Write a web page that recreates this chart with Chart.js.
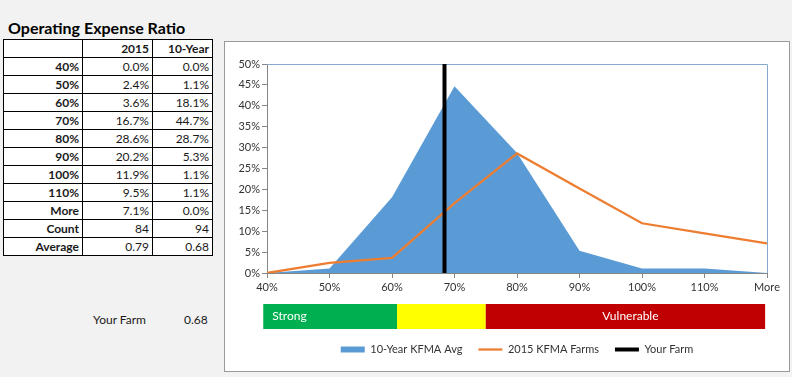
<!DOCTYPE html>
<html>
<head>
<meta charset="utf-8">
<script src="https://cdn.jsdelivr.net/npm/chart.js@4"></script>
<style>
  body { margin: 0; background: #f2f2f2; font-family: Lato, "Open Sans", sans-serif; color: #1a1a1a; }
  #page { position: relative; width: 792px; height: 377px; overflow: hidden; }
  .title { position: absolute; left: 8px; top: 18px; font-size: 16px; font-weight: bold; color: #000; }
  table { position: absolute; left: 3px; top: 39px; border-collapse: collapse; font-size: 12px; }
  td { border: 1px solid #000; background: #fff; height: 17px; line-height: 17px; padding: 0 3px; text-align: right; }
  td.lbl { font-weight: bold; }
  .farm { position: absolute; top: 312px; font-size: 12px; }
  #box { position: absolute; left: 224px; top: 41px; width: 564px; height: 329px; background: #fff; border: 1px solid #9a9a9a; }
  #wrap { position: absolute; left: 226px; top: 43px; width: 562px; height: 322px; }
</style>
</head>
<body>
<div id="page">
  <div class="title">Operating Expense Ratio</div>
  <table id="tbl"></table>
  <div class="farm" style="left:93px">Your Farm</div>
  <div class="farm" id="farmVal" style="left:184px"></div>
  <div id="box"></div>
  <div id="wrap"><canvas id="myChart"></canvas></div>
</div>
<script>
// histogram bins (x position on the axis) and their labels
const bins = [0.4, 0.5, 0.6, 0.7, 0.8, 0.9, 1.0, 1.1, 1.2]
const xTickLabels = ['40%', '50%', '60%', '70%', '80%', '90%', '100%', '110%', 'More']
const yTickLabels = ['0%', '5%', '10%', '15%', '20%', '25%', '30%', '35%', '40%', '45%', '50%']

// percent of farms in each bin
const tenYear = [0.0, 1.1, 18.1, 44.7, 28.7, 5.3, 1.1, 1.1, 0.0]
const farms2015 = [0.0, 2.4, 3.6, 16.7, 28.6, 20.2, 11.9, 9.5, 7.1]
const counts = [84, 94]
const averages = [0.79, 0.68]
const yourFarm = 0.684

// rating zones under the axis
const zoneNames = ['Strong', '', 'Vulnerable']
const zoneEdges = [0.394, 0.608, 0.75, 1.197]
const zoneColors = ['#00b050', '#ffff00', '#c00000']

// table
let rows = `<tr><td></td><td class="lbl">2015</td><td class="lbl">10-Year</td></tr>`
rows += xTickLabels.map((l, i) => `<tr><td class="lbl" style="width:72px">${l}</td><td style="width:63px">${farms2015[i].toFixed(1)}%</td><td style="width:53px">${tenYear[i].toFixed(1)}%</td></tr>`).join('')
rows += `<tr><td class="lbl">Count</td><td>${counts[0]}</td><td>${counts[1]}</td></tr>`
rows += `<tr><td class="lbl">Average</td><td>${averages[0].toFixed(2)}</td><td>${averages[1].toFixed(2)}</td></tr>`
document.getElementById('tbl').innerHTML = rows
document.getElementById('farmVal').textContent = yourFarm.toFixed(2)

const pts = arr => arr.map((v, i) => ({ x: bins[i], y: v / 100 }))

const extras = {
  id: 'extras',
  beforeDatasetsDraw(chart) {
    const { ctx, chartArea: a } = chart
    ctx.save()
    ctx.strokeStyle = '#86a9d0'
    ctx.lineWidth = 1
    ctx.beginPath()
    ctx.moveTo(a.left, a.top + 0.5)
    ctx.lineTo(a.right + 0.5, a.top + 0.5)
    ctx.lineTo(a.right + 0.5, a.bottom)
    ctx.stroke()
    ctx.restore()
  },
  afterDraw(chart) {
    const { ctx, chartArea: a } = chart
    const x = chart.scales.x
    const top = a.bottom + 31, h = 25
    ctx.save()
    ctx.font = '12px Lato'
    ctx.textBaseline = 'middle'
    zoneNames.forEach((name, i) => {
      const x0 = x.getPixelForValue(zoneEdges[i])
      const x1 = x.getPixelForValue(zoneEdges[i + 1])
      ctx.fillStyle = zoneColors[i]
      ctx.fillRect(x0, top, x1 - x0, h)
      if (!name) return
      ctx.fillStyle = '#fff'
      if (i === 0) {
        ctx.textAlign = 'left'
        ctx.fillText(name, x0 + 9, top + h / 2)
      } else {
        ctx.textAlign = 'center'
        ctx.fillText(name, (x0 + x1) / 2 + 5, top + h / 2)
      }
    })
    ctx.restore()
  }
}

const ctx = document.getElementById('myChart')
new Chart(ctx, {
  type: 'line',
  data: {
    datasets: [{
      label: '10-Year KFMA Avg',
      data: pts(tenYear),
      backgroundColor: '#5b9bd5',
      borderColor: '#5b9bd5',
      borderWidth: 0,
      fill: 'origin',
      pointRadius: 0,
      pointStyle: 'rect',
      order: 3
    }, {
      label: '2015 KFMA Farms',
      data: pts(farms2015),
      borderColor: '#ed7d31',
      backgroundColor: '#ed7d31',
      borderWidth: 2.25,
      fill: false,
      pointRadius: 0,
      pointStyle: 'line',
      order: 2
    }, {
      label: 'Your Farm',
      data: [{ x: yourFarm, y: 0 }, { x: yourFarm, y: 0.5 }],
      borderColor: '#000',
      backgroundColor: '#000',
      borderWidth: 4,
      fill: false,
      pointRadius: 0,
      pointStyle: 'line',
      order: 1
    }]
  },
  options: {
    responsive: true,
    maintainAspectRatio: false,
    animation: false,
    events: [],
    layout: { padding: { left: 0, right: 21, top: 21, bottom: 0 } },
    elements: { line: { tension: 0 } },
    scales: {
      x: {
        type: 'linear',
        min: 0.4,
        max: 1.2,
        ticks: {
          stepSize: 0.1,
          padding: 3,
          maxRotation: 0,
          autoSkip: false,
          color: '#333',
          font: { family: 'Lato', size: 11 },
          callback: (v, i) => xTickLabels[i]
        },
        grid: { drawOnChartArea: false, tickLength: 5, color: '#868686' },
        border: { color: '#868686' },
        afterFit(scale) { scale.height = 55 }
      },
      y: {
        min: 0,
        max: 0.5,
        ticks: {
          stepSize: 0.05,
          padding: 2,
          color: '#333',
          font: { family: 'Lato', size: 11 },
          callback: (v, i) => yTickLabels[i]
        },
        grid: { drawOnChartArea: false, tickLength: 5, color: '#868686' },
        border: { color: '#868686' },
        afterFit(scale) { scale.width = 41 }
      }
    },
    plugins: {
      legend: {
        position: 'bottom',
        fullSize: false,
        labels: {
          usePointStyle: true,
          pointStyleWidth: 24,
          boxHeight: 6,
          padding: 16,
          color: '#333',
          font: { family: 'Lato', size: 11 },
          sort: (a, b) => a.datasetIndex - b.datasetIndex
        }
      },
      tooltip: { enabled: false }
    }
  },
  plugins: [extras]
})
</script>
</body>
</html>
